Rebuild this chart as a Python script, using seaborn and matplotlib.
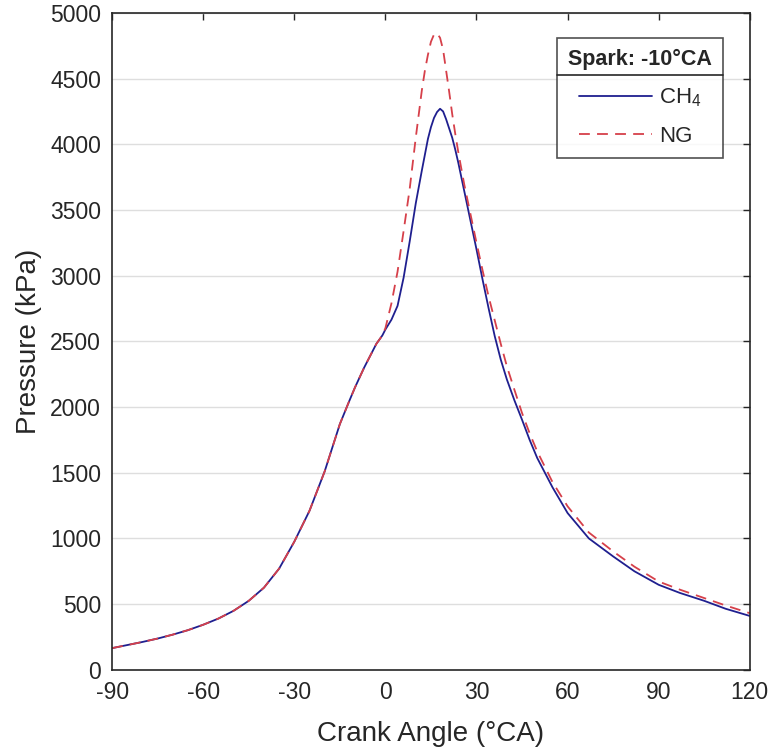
import pandas as pd
import numpy as np
import matplotlib.pyplot as plt
import seaborn as sns
from matplotlib.lines import Line2D

# Crank angle (deg CA) and cylinder pressure (kPa)
angle = [-90, -80, -75, -70, -65, -60, -55, -50, -45, -40, -35, -30, -25, -20,
         -15, -12, -10, -9, -7, -5, -3, -1,
         0, 2, 4, 6, 8, 10, 12, 13, 14, 15, 16, 17, 18, 19, 20, 21, 22, 23, 24,
         26, 28, 30, 32, 34, 36, 38, 40, 42.5, 45, 47.5, 50, 55, 60, 67, 75, 82,
         90, 97, 105, 112, 120]

# compression part, identical for both fuels
p_comp = [165, 212, 238, 268, 302, 343, 390, 449, 525, 625, 770, 975, 1210, 1510,
          1870, 2040, 2150, 2200, 2300, 2390, 2480, 2545]

p_ch4 = p_comp + [
    2590, 2665, 2770, 2985, 3260, 3550, 3800, 3920, 4040, 4130, 4200, 4245, 4270,
    4250, 4190, 4120, 4050, 3960, 3860, 3640, 3420, 3200, 2970, 2750, 2540, 2360,
    2210, 2050, 1903, 1750, 1612, 1390, 1193, 1000, 863, 750, 647, 585, 525, 465,
    410]

p_ng = p_comp + [
    2600, 2790, 3030, 3340, 3660, 4050, 4410, 4560, 4680, 4780, 4835, 4845, 4810,
    4720, 4560, 4400, 4230, 4080, 3940, 3690, 3470, 3250, 3040, 2840, 2660, 2480,
    2310, 2130, 1954, 1800, 1662, 1430, 1244, 1045, 901, 785, 672, 610, 546, 490,
    431]

fuels = ["CH$_4$", "NG"]
legend_title = "Spark: -10°CA"

df = pd.DataFrame({
    "angle": angle * 2,
    "pressure": p_ch4 + p_ng,
    "fuel": [fuels[0]] * len(angle) + [fuels[1]] * len(angle),
})

sns.set_theme(style="white")
plt.rcParams["font.family"] = ["Liberation Sans", "DejaVu Sans"]
plt.rcParams["mathtext.fontset"] = "custom"
plt.rcParams["mathtext.rm"] = "Liberation Sans"
plt.rcParams["mathtext.it"] = "Liberation Sans"
plt.rcParams["axes.unicode_minus"] = False

dark = "#262626"
fig = plt.figure(figsize=(7.73, 7.56), dpi=100)
ax = fig.add_axes([0.145, 0.114, 0.825, 0.869])

sns.lineplot(data=df[df["fuel"] == fuels[0]], x="angle", y="pressure",
             color="#1f1f8f", linewidth=1.3, ax=ax, label=fuels[0])
sns.lineplot(data=df[df["fuel"] == fuels[1]], x="angle", y="pressure",
             color="#d6404a", linewidth=1.3, linestyle=(0, (6, 4)), ax=ax,
             label=fuels[1])

ax.set_xlim(-90, 120)
ax.set_ylim(0, 5000)
ax.set_xticks(np.arange(-90, 121, 30))
ax.set_yticks(np.arange(0, 5001, 500))
ax.yaxis.grid(True, color="#dedede", linewidth=1)
ax.xaxis.grid(False)

ax.tick_params(direction="in", length=5, width=1, colors=dark, labelsize=16.5,
               top=True, right=True, pad=8)
for s in ax.spines.values():
    s.set_color(dark)
    s.set_linewidth(1.2)

ax.set_xlabel("Crank Angle (°CA)", fontsize=20, color=dark, labelpad=12)
ax.set_ylabel("Pressure (kPa)", fontsize=20, color=dark, labelpad=6)

leg = ax.legend(title=legend_title, loc="upper right",
                bbox_to_anchor=(0.958, 0.962), borderaxespad=0,
                frameon=True, fancybox=False,
                edgecolor=dark, fontsize=16, handlelength=3.3,
                handletextpad=0.3, borderpad=0.5, labelspacing=0.75)
leg.get_frame().set_linewidth(1.2)
leg.get_title().set_fontsize(15.5)
leg.get_title().set_fontweight("bold")
leg.get_title().set_color(dark)
for t in leg.get_texts():
    t.set_color(dark)

# separator line under the legend title
fig.canvas.draw()
r = fig.canvas.get_renderer()
lb = leg.get_frame().get_window_extent(r)
tb = leg.get_title().get_window_extent(r)
ysep = tb.y0 - 5
fw, fh = fig.bbox.width, fig.bbox.height
fig.add_artist(Line2D([lb.x0 / fw, lb.x1 / fw], [ysep / fh, ysep / fh],
                      color=dark, linewidth=1.2, transform=fig.transFigure))

plt.savefig("out.png", dpi=100)
